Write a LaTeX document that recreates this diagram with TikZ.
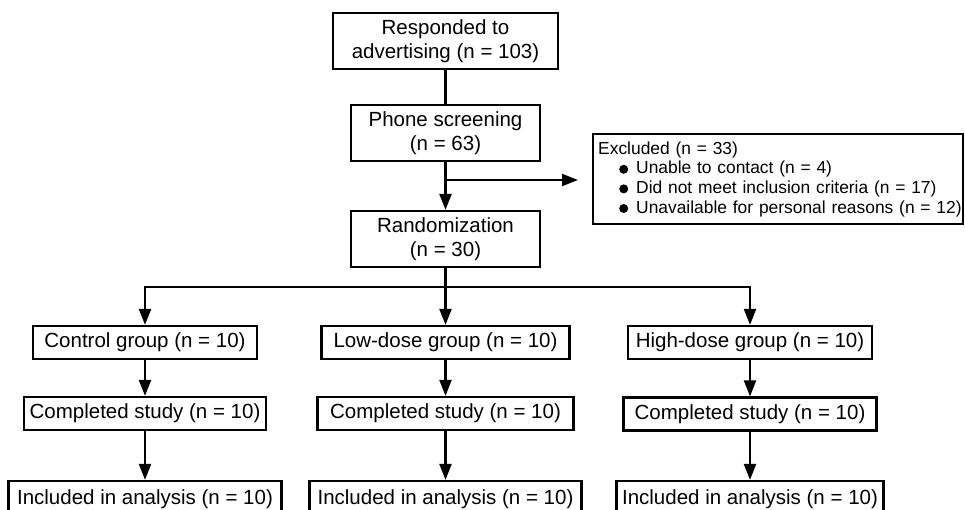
\documentclass[tikz,border=0pt]{standalone}
\usepackage{fontspec}
\setmainfont{Liberation Sans}
\usetikzlibrary{arrows.meta}
\newcommand\xbul{\tikz[baseline={(0pt,-4.6pt)}]\fill (0pt,0pt) circle (4.5pt);}
\begin{document}
\begin{tikzpicture}[x=1pt,y=-1pt, line width=2.2pt,
  box/.style={draw, inner sep=0pt, font=\fontsize{20.5}{23.5}\selectfont, align=center},
  arr/.style={-{Triangle[length=16pt,width=12pt]}}]
\useasboundingbox (0,0) rectangle (965,510);
\clip (0,0) rectangle (965,510);

\node[box, minimum width=225pt, minimum height=56pt] (resp) at (445.5,41) {Responded to\\advertising (n = 103)};
\node[box, minimum width=189pt, minimum height=56pt] (phone) at (445.5,133) {Phone screening\\(n = 63)};
\node[box, minimum width=189pt, minimum height=56pt] (rand) at (445.5,239) {Randomization\\(n = 30)};
\node[draw, anchor=north west, inner xsep=5pt, inner ysep=0pt, text width=360pt, minimum height=90pt, align=left, font=\fontsize{17.4}{19.6}\selectfont] (excl) at (593,134) {\mbox{Excluded (n = 33)}\\
\mbox{\hspace*{21pt}\xbul\hspace{8pt}Unable to contact (n = 4)}\\
\mbox{\hspace*{21pt}\xbul\hspace{8pt}Did not meet inclusion criteria (n = 17)}\\
\mbox{\hspace*{21pt}\xbul\hspace{8pt}Unavailable for personal reasons (n = 12)}};

\node[box, minimum width=224pt, minimum height=33pt] (ctrl) at (145,342.5) {Control group (n = 10)};
\node[box, minimum width=248pt, minimum height=33pt] (low) at (445.5,342.5) {Low-dose group (n = 10)};
\node[box, minimum width=244pt, minimum height=33pt] (high) at (750,342.5) {High-dose group (n = 10)};

\node[box, minimum width=242pt, minimum height=33pt] (comp1) at (145,413.5) {Completed study (n = 10)};
\node[box, minimum width=256pt, minimum height=33pt] (comp2) at (445.5,413.5) {Completed study (n = 10)};
\node[box, minimum width=253pt, minimum height=33pt] (comp3) at (750,414) {Completed study (n = 10)};

\node[box, minimum width=273pt, minimum height=36pt] (inc1) at (145,499) {Included in analysis (n = 10)};
\node[box, minimum width=272pt, minimum height=36pt] (inc2) at (445.5,499) {Included in analysis (n = 10)};
\node[box, minimum width=267pt, minimum height=36pt] (inc3) at (750,499) {Included in analysis (n = 10)};

\coordinate (brY) at (0,180);
\coordinate (hY) at (0,287);
\draw (resp) -- (phone);
\draw[arr] (phone) -- (rand);
\draw[arr, shorten >=15pt] (phone.south |- brY) -- (excl.west |- brY);
\draw[arr] (rand) -- (low);
\draw[arr] (rand.south |- hY) -| (ctrl.north);
\draw[arr] (rand.south |- hY) -| (high.north);
\foreach \a/\b in {ctrl/comp1, low/comp2, high/comp3}
  \draw[arr] (\a.south) -- (\a.south |- \b.north);
\foreach \a/\b in {comp1/inc1, comp2/inc2, comp3/inc3}
  \draw[arr] (\a.south) -- (\a.south |- \b.north);
\end{tikzpicture}
\end{document}
